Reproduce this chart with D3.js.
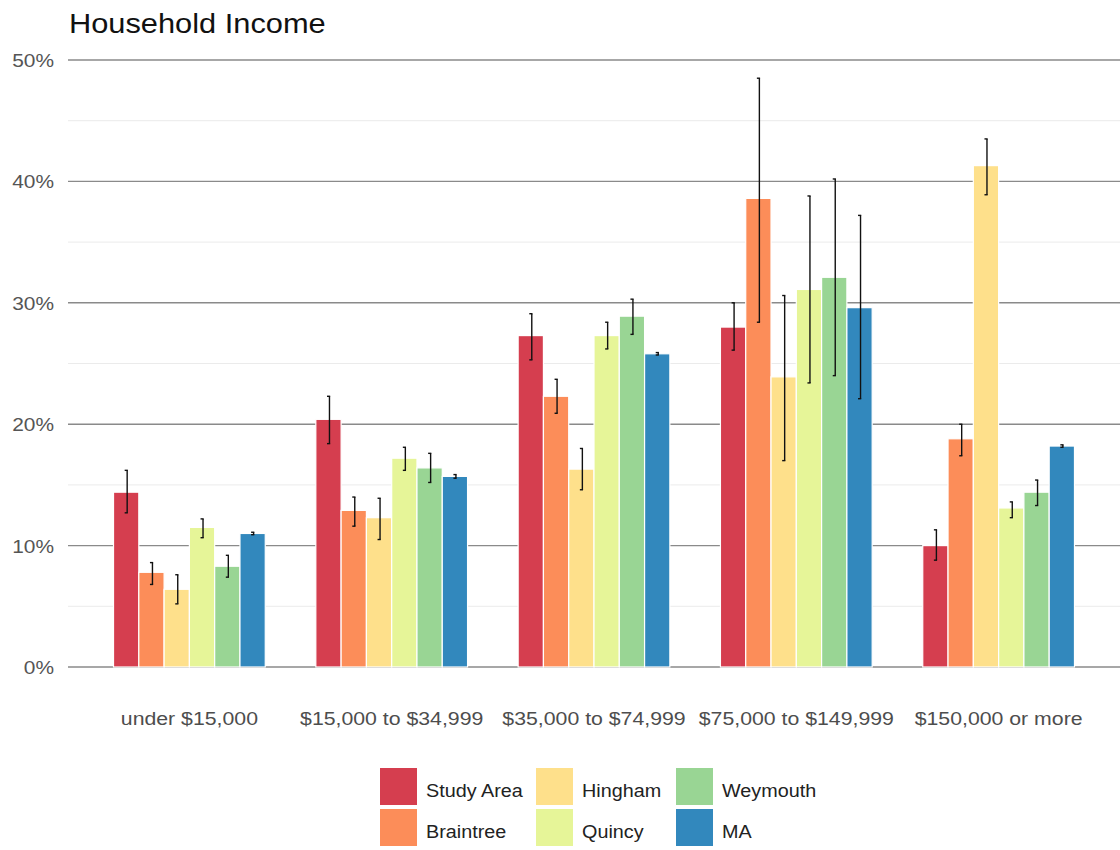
<!DOCTYPE html>
<html><head><meta charset="utf-8">
<script src="https://cdn.jsdelivr.net/npm/d3@7"></script>
<style>body{margin:0;background:#fff;font-family:"Liberation Sans",Arial,sans-serif;}</style>
</head><body><svg id="chart" width="1120" height="850"></svg>
<script>
const categories = ["under $15,000","$15,000 to $34,999","$35,000 to $74,999","$75,000 to $149,999","$150,000 or more"];
const seriesNames = ["Study Area","Braintree","Hingham","Quincy","Weymouth","MA"];
const colors = ["#d53e4f","#fc8d59","#fee08b","#e6f598","#99d594","#3288bd"];
const studyArea = [14.4, 20.4, 27.3, 28.0, 10.0];
const braintree = [7.8, 12.9, 22.3, 38.6, 18.8];
const hingham   = [6.4, 12.3, 16.3, 23.9, 41.3];
const quincy    = [11.5, 17.2, 27.3, 31.1, 13.1];
const weymouth  = [8.3, 16.4, 28.9, 32.1, 14.4];
const ma        = [11.0, 15.7, 25.8, 29.6, 18.2];
const studyAreaLo = [12.7, 18.4, 25.3, 26.1, 8.8];
const studyAreaHi = [16.2, 22.3, 29.1, 30.0, 11.3];
const braintreeLo = [6.8, 11.6, 20.9, 28.4, 17.4];
const braintreeHi = [8.6, 14.0, 23.7, 48.5, 20.0];
const hinghamLo   = [5.2, 10.5, 14.6, 17.0, 38.9];
const hinghamHi   = [7.6, 13.9, 18.0, 30.6, 43.5];
const quincyLo    = [10.65, 16.2, 26.2, 23.4, 12.3];
const quincyHi    = [12.2, 18.1, 28.4, 38.8, 13.6];
const weymouthLo  = [7.4, 15.2, 27.4, 24.0, 13.3];
const weymouthHi  = [9.2, 17.6, 30.3, 40.2, 15.4];
const maLo        = [10.9, 15.55, 25.7, 22.1, 18.1];
const maHi        = [11.1, 15.85, 25.9, 37.2, 18.3];
const yTicks = [0, 10, 20, 30, 40, 50];
const yMinor = [5, 15, 25, 35, 45];
const title = "Household Income";

const vals = [studyArea, braintree, hingham, quincy, weymouth, ma];
const los = [studyAreaLo, braintreeLo, hinghamLo, quincyLo, weymouthLo, maLo];
const his = [studyAreaHi, braintreeHi, hinghamHi, quincyHi, weymouthHi, maHi];

const svg = d3.select("#chart");
const plotLeft = 68, plotRight = 1120, plotTop = 60, plotBottom = 667;

const y = d3.scaleLinear().domain([0, 50]).range([plotBottom, plotTop]);
const x = d3.scalePoint().domain(categories).range([plotLeft, plotRight]).padding(0.6);
const step = x.step();
const x1 = d3.scaleBand().domain(seriesNames).range([-step*0.375, step*0.375]);

svg.append("g").selectAll("line").data(yMinor).join("line")
  .attr("x1", plotLeft).attr("x2", plotRight)
  .attr("y1", d => y(d)).attr("y2", d => y(d))
  .attr("stroke", "#ebebeb").attr("stroke-width", 1);
svg.append("g").selectAll("line").data(yTicks).join("line")
  .attr("x1", plotLeft).attr("x2", plotRight)
  .attr("y1", d => y(d)).attr("y2", d => y(d))
  .attr("stroke", "#8a8a8a").attr("stroke-width", 1.4);

// y labels (slightly wide rendering as in reference)
svg.append("g").selectAll("text").data(yTicks).join("text")
  .attr("transform", d => `translate(54,${y(d) + 7}) scale(1.1,1)`)
  .attr("text-anchor", "end").attr("font-size", 19).attr("fill", "#555")
  .text(d => d + "%");

const data = [];
categories.forEach((c, ci) => seriesNames.forEach((s, si) => {
  data.push({c, s, si, v: vals[si][ci], lo: los[si][ci], hi: his[si][ci]});
}));
svg.append("g").selectAll("rect").data(data).join("rect")
  .attr("x", d => x(d.c) + x1(d.s))
  .attr("width", x1.bandwidth())
  .attr("y", d => y(d.v))
  .attr("height", d => y(0) - y(d.v))
  .attr("fill", d => colors[d.si])
  .attr("stroke", "#fff").attr("stroke-width", 1.2);

const eb = svg.append("g").attr("stroke", "#111").attr("stroke-width", 1.4);
data.forEach(d => {
  const cx = x(d.c) + x1(d.s) + x1.bandwidth()/2 + 1;
  eb.append("line").attr("x1", cx).attr("x2", cx).attr("y1", y(d.hi)).attr("y2", y(d.lo));
  eb.append("line").attr("x1", cx - 2.5).attr("x2", cx + 0.7).attr("y1", y(d.hi)).attr("y2", y(d.hi));
  eb.append("line").attr("x1", cx - 2.5).attr("x2", cx + 0.7).attr("y1", y(d.lo)).attr("y2", y(d.lo));
});

svg.append("g").selectAll("text").data(categories).join("text")
  .attr("transform", d => `translate(${x(d)},725) scale(1.12,1)`)
  .attr("text-anchor", "middle").attr("font-size", 19).attr("fill", "#4d4d4d")
  .text(d => d);

svg.append("text").attr("transform", "translate(69,33) scale(1.1,1)")
  .attr("font-size", 28).attr("fill", "#111").text(title);

const legX = [380, 536, 676], legY = [768, 809];
const lg = svg.append("g");
seriesNames.forEach((s, i) => {
  const col = Math.floor(i / 2), row = i % 2;
  lg.append("rect").attr("x", legX[col]).attr("y", legY[row]).attr("width", 37).attr("height", 37).attr("fill", colors[i]);
  lg.append("text").attr("transform", `translate(${legX[col] + 46},${legY[row] + 28.5}) scale(1.07,1)`)
    .attr("font-size", 18.5).attr("fill", "#222").text(s);
});
</script></body></html>
